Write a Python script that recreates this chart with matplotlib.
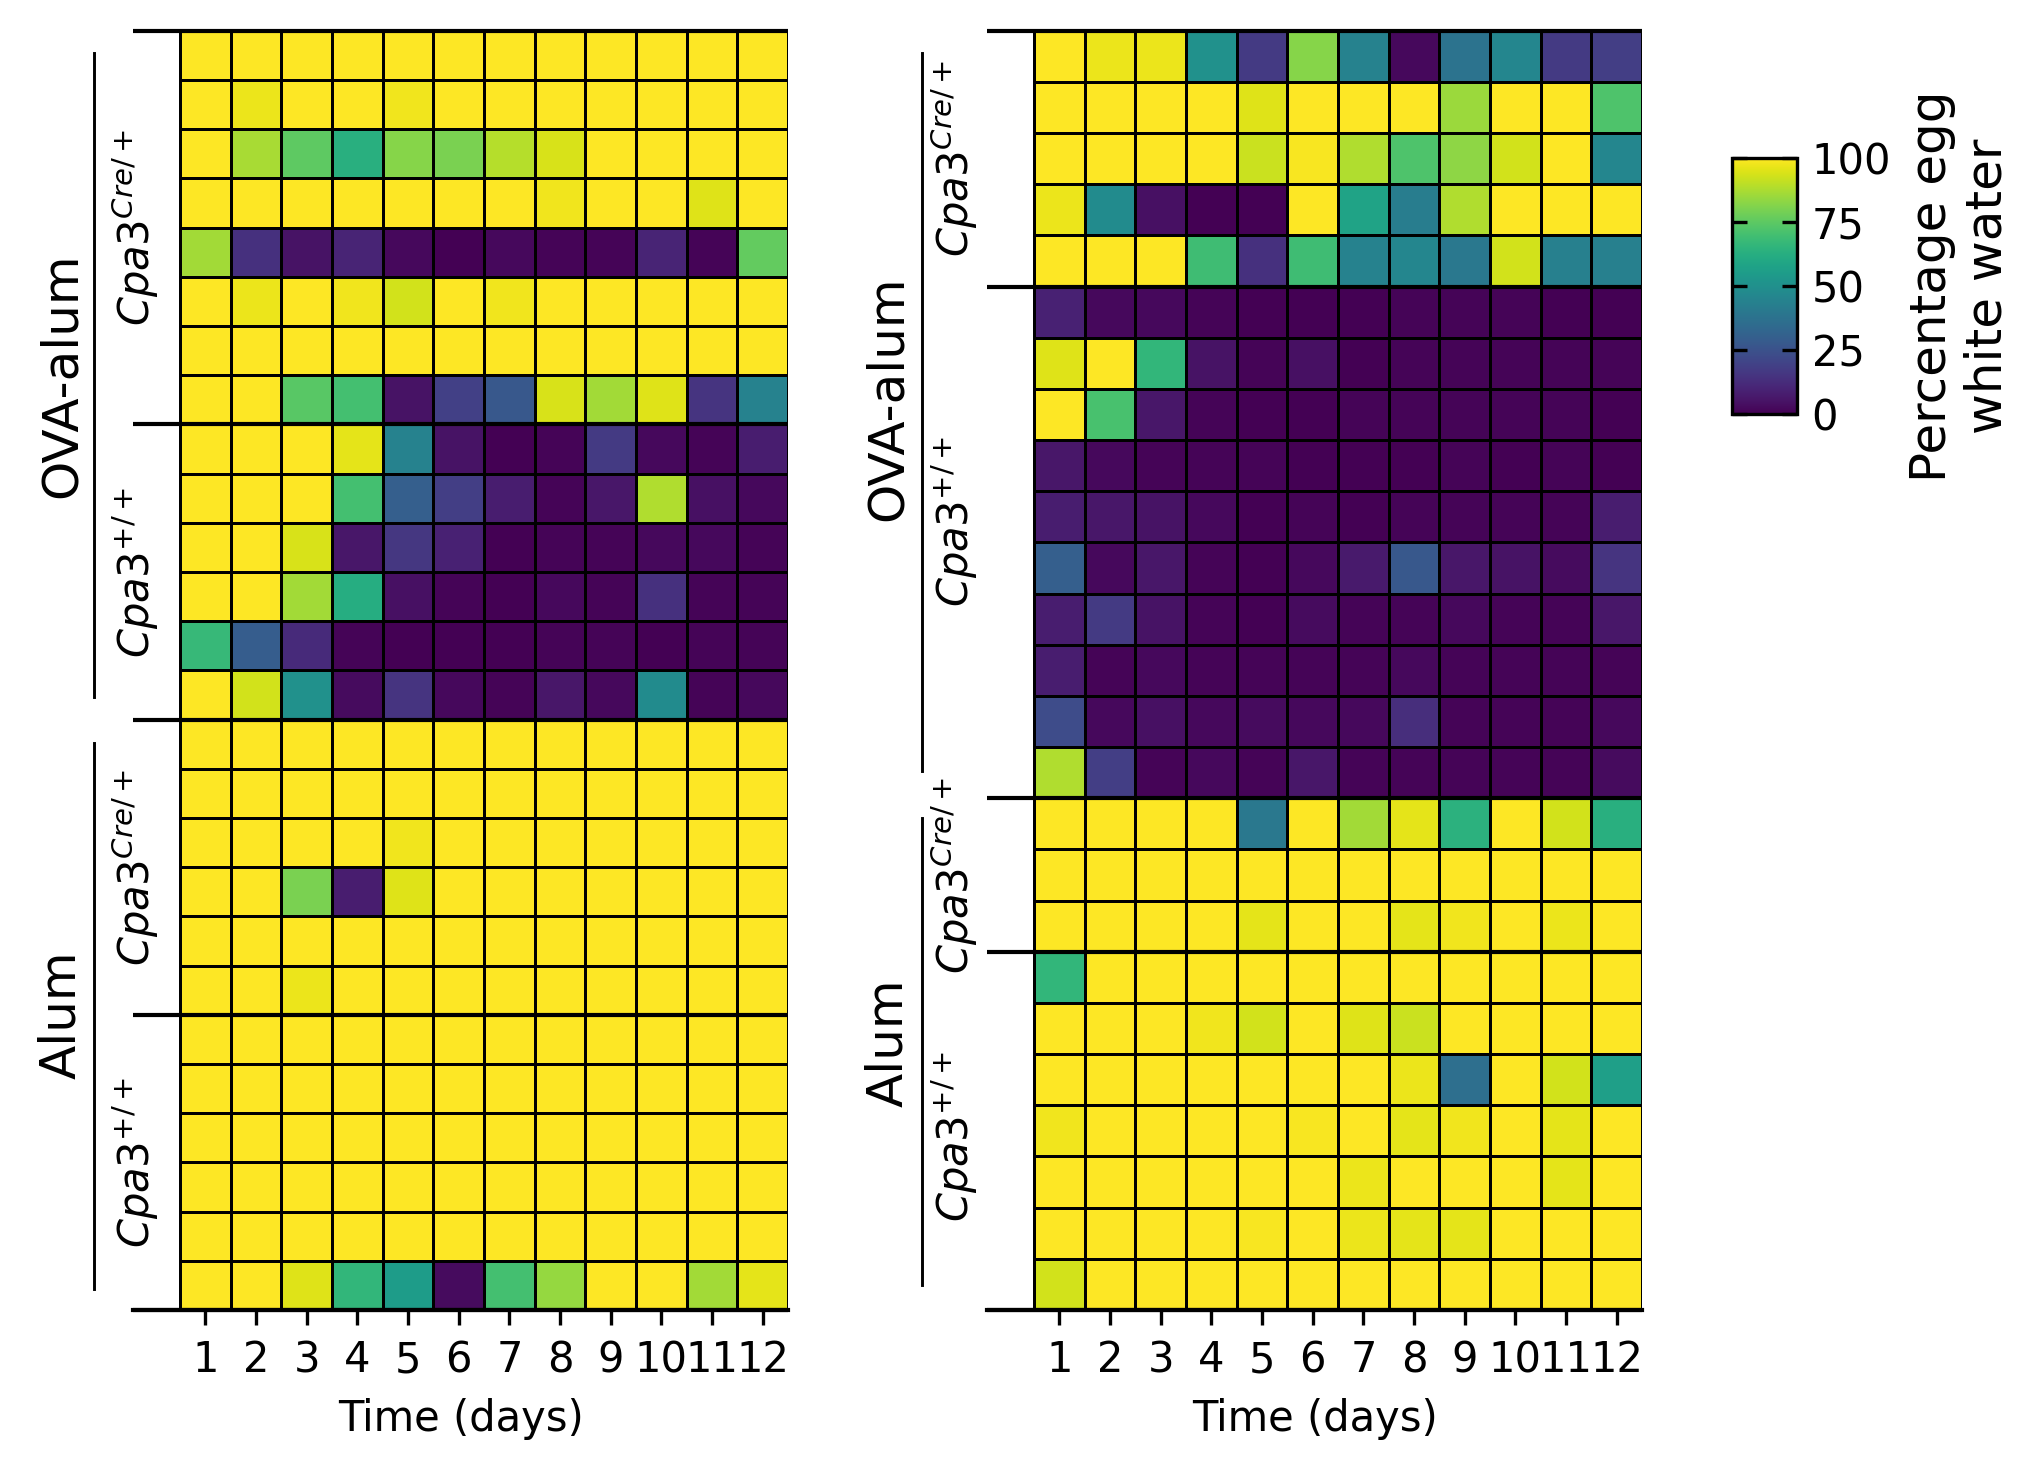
import numpy as np
import matplotlib
matplotlib.use("Agg")
import matplotlib.pyplot as plt
from matplotlib.transforms import blended_transform_factory
from matplotlib.lines import Line2D

# ---------------- data ----------------
days = list(range(1, 13))
treatments = ["OVA-alum", "Alum"]
genotypes = [r"$Cpa3^{Cre/+}$", r"$Cpa3^{+/+}$"]

# Left panel
left_ova_cre = [
    [100, 100, 100, 100, 100, 100, 100, 100, 100, 100, 100, 100],
    [100, 97, 100, 100, 98, 100, 100, 100, 100, 100, 100, 100],
    [100, 87, 75, 63, 82, 80, 89, 94, 100, 100, 100, 100],
    [100, 100, 100, 100, 100, 100, 100, 98, 100, 100, 95, 100],
    [86, 14, 5, 10, 2, 0, 2, 1, 1, 10, 1, 76],
    [100, 97, 100, 98, 93, 100, 98, 100, 100, 100, 100, 100],
    [100, 100, 100, 100, 100, 100, 100, 100, 100, 100, 100, 100],
    [100, 100, 74, 70, 5, 19, 27, 94, 86, 95, 15, 44],
]
left_ova_wt = [
    [100, 100, 100, 96, 44, 5, 0, 1, 17, 2, 1, 8],
    [100, 100, 100, 70, 30, 18, 8, 1, 6, 88, 4, 2],
    [100, 100, 94, 6, 16, 9, 0, 1, 1, 2, 2, 1],
    [100, 100, 86, 62, 4, 1, 0, 2, 1, 14, 1, 1],
    [67, 29, 12, 1, 0, 0, 0, 1, 1, 0, 1, 1],
    [100, 93, 50, 3, 15, 2, 1, 6, 2, 48, 1, 2],
]
left_alum_cre = [
    [100, 100, 100, 100, 100, 100, 100, 100, 100, 100, 100, 100],
    [100, 100, 100, 100, 100, 100, 100, 100, 100, 100, 100, 100],
    [100, 100, 100, 100, 98, 100, 100, 100, 100, 100, 100, 100],
    [100, 100, 80, 8, 95, 100, 100, 100, 100, 100, 100, 100],
    [100, 100, 100, 100, 100, 100, 100, 100, 100, 100, 100, 100],
    [100, 100, 97, 100, 100, 100, 100, 100, 100, 100, 100, 100],
]
left_alum_wt = [
    [100, 100, 100, 100, 100, 100, 100, 100, 100, 100, 100, 100],
    [100, 100, 100, 100, 100, 100, 100, 100, 100, 100, 100, 100],
    [100, 100, 100, 100, 100, 100, 100, 100, 100, 100, 100, 100],
    [100, 100, 100, 100, 100, 100, 100, 100, 100, 100, 100, 100],
    [100, 100, 100, 100, 100, 100, 100, 100, 100, 100, 100, 100],
    [100, 100, 95, 66, 55, 3, 70, 84, 100, 100, 86, 96],
]

# Right panel
right_ova_cre = [
    [100, 97, 97, 50, 17, 82, 44, 2, 38, 46, 17, 18],
    [100, 100, 100, 100, 95, 100, 100, 100, 85, 100, 100, 72],
    [100, 100, 100, 100, 92, 99, 88, 72, 83, 93, 100, 46],
    [97, 48, 4, 0, 0, 100, 58, 42, 88, 100, 100, 100],
    [100, 100, 100, 69, 14, 69, 44, 46, 40, 93, 43, 43],
]
right_ova_wt = [
    [9, 2, 2, 1, 0, 0, 0, 1, 1, 1, 0, 0],
    [95, 100, 66, 5, 1, 4, 0, 1, 1, 1, 1, 1],
    [100, 71, 6, 1, 0, 0, 1, 1, 1, 1, 1, 0],
    [6, 2, 1, 1, 1, 0, 0, 0, 1, 0, 1, 0],
    [8, 6, 5, 2, 0, 1, 0, 1, 1, 1, 1, 8],
    [30, 2, 6, 1, 0, 2, 7, 27, 6, 5, 3, 15],
    [8, 17, 5, 1, 0, 3, 1, 1, 2, 1, 1, 6],
    [8, 1, 2, 1, 1, 1, 1, 2, 1, 1, 1, 1],
    [23, 2, 4, 2, 3, 2, 2, 13, 1, 1, 1, 2],
    [88, 18, 1, 2, 1, 6, 1, 1, 1, 1, 1, 3],
]
right_alum_cre = [
    [100, 100, 100, 100, 40, 100, 86, 96, 64, 100, 93, 63],
    [100, 100, 100, 100, 100, 100, 100, 100, 100, 100, 100, 100],
    [100, 100, 100, 100, 96, 100, 100, 96, 98, 100, 97, 100],
]
right_alum_wt = [
    [66, 100, 100, 100, 100, 100, 100, 100, 100, 100, 100, 100],
    [100, 100, 100, 98, 93, 100, 95, 92, 100, 100, 100, 100],
    [100, 100, 100, 100, 100, 100, 100, 97, 36, 100, 93, 56],
    [98, 100, 100, 100, 100, 99, 100, 96, 98, 100, 96, 100],
    [100, 100, 100, 100, 100, 100, 97, 100, 100, 100, 96, 100],
    [100, 100, 100, 100, 99, 100, 97, 96, 96, 100, 100, 100],
    [93, 100, 100, 100, 100, 100, 100, 100, 100, 100, 100, 100],
]

colorbar_ticks = [0, 25, 50, 75, 100]
colorbar_label = "Percentage egg\nwhite water"
xlabel = "Time (days)"

# ---------------- layout ----------------
W, H = 2041, 1470
fig = plt.figure(figsize=(W / 300, H / 300), dpi=300)

panels = [
    dict(groups=[left_ova_cre, left_ova_wt, left_alum_cre, left_alum_wt],
         ax_left=133, line_x=94, geno_x=135.5, treat_x=61.5,
         geno_shift=[0, 0, 0, 0], treat_shift=[0, 0],
         line_insets=[(0.45, 0.45), (0.47, 0.43)]),
    dict(groups=[right_ova_cre, right_ova_wt, right_alum_cre, right_alum_wt],
         ax_left=987, line_x=922, geno_x=954.5, treat_x=888,
         geno_shift=[0, -0.42, 0, 0.1], treat_shift=[-0.32, -0.23],
         line_insets=[(0.43, 0.53), (0.39, 0.49)]),
]

ax_w = 655
ax_bottom = 1310
ax_h = 1279.3
x_pad = 0.93  # extension of axes to the left of the heatmap (in cells)

mesh = None
for p in panels:
    groups = p["groups"]
    data = np.array([row for g in groups for row in g], dtype=float)
    nrows, ncols = data.shape
    ax = fig.add_axes([p["ax_left"] / W, 1 - ax_bottom / H, ax_w / W, ax_h / H])
    mesh = ax.pcolormesh(np.arange(ncols + 1), np.arange(nrows + 1), data,
                         cmap="viridis", vmin=0, vmax=100,
                         edgecolors="black", linewidth=0.6)
    ax.set_xlim(-x_pad, ncols)
    ax.set_ylim(nrows, 0)
    ax.set_xticks(np.arange(ncols) + 0.5)
    ax.set_xticklabels([str(d) for d in days], fontsize=10)
    ax.set_yticks([])
    ax.set_xlabel(xlabel, fontsize=10)
    for s in ["top", "right", "left"]:
        ax.spines[s].set_visible(False)
    ax.spines["bottom"].set_linewidth(1.0)
    ax.tick_params(axis="x", length=3.5, width=0.8)

    # group boundaries
    sizes = [len(g) for g in groups]
    bounds = np.concatenate([[0], np.cumsum(sizes)])
    ax.hlines(bounds, -x_pad, ncols, colors="black", linewidth=1.0, clip_on=False)

    tr = blended_transform_factory(fig.transFigure, ax.transData)
    # genotype labels
    for i in range(len(groups)):
        y0, y1 = bounds[i], bounds[i + 1]
        ax.text(p["geno_x"] / W, (y0 + y1) / 2 + p["geno_shift"][i], genotypes[i % 2],
                transform=tr, rotation=90, ha="center", va="center", fontsize=10)
    # treatment labels and lines
    for t in range(2):
        y0, y1 = bounds[2 * t], bounds[2 * t + 2]
        it, ib = p["line_insets"][t]
        ax.add_line(Line2D([p["line_x"] / W] * 2, [y0 + it, y1 - ib],
                           transform=tr, color="black", linewidth=0.7, clip_on=False))
        ax.text(p["treat_x"] / W, (y0 + y1) / 2 + p["treat_shift"][t], treatments[t],
                transform=tr, rotation=90, ha="center", va="center", fontsize=12)

cax = fig.add_axes([1732 / W, 1 - 414 / H, 65 / W, 256 / H])
cb = fig.colorbar(mesh, cax=cax, ticks=colorbar_ticks)
cb.ax.tick_params(direction="in", left=True, right=True, labelsize=10, length=3.5, width=0.8)
cb.set_label(colorbar_label, fontsize=12)

fig.savefig("out.png", dpi=300)
